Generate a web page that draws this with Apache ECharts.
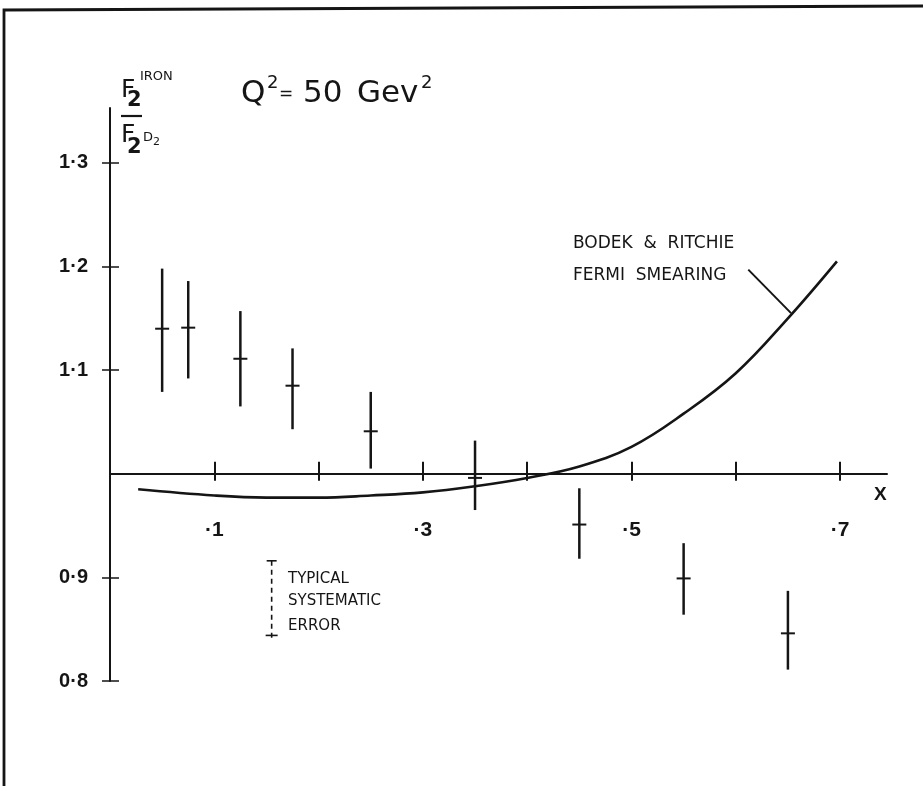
<!DOCTYPE html>
<html><head><meta charset="utf-8">
<script src="https://cdn.jsdelivr.net/npm/echarts@6/dist/echarts.min.js"></script>
<style>html,body{margin:0;padding:0;background:#fff}#c{width:923px;height:786px}</style>
</head><body><div id="c"></div>
<script>
// ---- data ----
const xPoints   = [0.05, 0.075, 0.125, 0.175, 0.25, 0.35, 0.45, 0.55, 0.65];
const ratio     = [1.140, 1.141, 1.111, 1.085, 1.041, 0.996, 0.951, 0.899, 0.846];
const errHigh   = [1.198, 1.186, 1.157, 1.121, 1.079, 1.032, 0.986, 0.933, 0.887];
const errLow    = [1.079, 1.092, 1.065, 1.043, 1.005, 0.965, 0.918, 0.864, 0.811];
const curveX    = [0.027, 0.1, 0.15, 0.2, 0.25, 0.3, 0.35, 0.4, 0.45, 0.5, 0.55, 0.6, 0.65, 0.697];
const curveY    = [0.985, 0.979, 0.977, 0.977, 0.979, 0.982, 0.988, 0.996, 1.007, 1.026, 1.058, 1.097, 1.150, 1.205];
const pointerX  = [0.612, 0.653];
const pointerY  = [1.197, 1.155];
const sysErrX   = [0.155];
const sysErrLow = [0.844];
const sysErrHigh= [0.916];
const xTickValues  = [0.1, 0.2, 0.3, 0.4, 0.5, 0.6, 0.7];
const xLabelValues = [0.1, 0.3, 0.5, 0.7];
const yTickValues  = [0.8, 0.9, 1.1, 1.2, 1.3];
const yLabelValues = [0.8, 0.9, 1.1, 1.2, 1.3];
const X_MIN = 0, X_MAX = 0.745, Y_MIN = 0.8, Y_MAX = 1.353, X_AXIS_AT = 1.0;

// ---- layout ----
const W = 923, H = 786;
const gridL = 110, gridR = 36, gridT = 108, gridB = 105;
const gridH = H - gridT - gridB;
const xAxisOffset = -(X_AXIS_AT - Y_MIN) / (Y_MAX - Y_MIN) * gridH;
const INK = '#151515';

const chart = echarts.init(document.getElementById('c'), null, {renderer: 'canvas'});

function xFmt(v) {
  const d = Math.round(v * 10);
  return xLabelValues.some(t => Math.abs(t - v) < 1e-6) ? '\u00B7' + d : '';
}
function yFmt(v) {
  return v.toFixed(1).replace('.', '\u00B7');
}

const baseX = {
  type: 'value', min: X_MIN, max: X_MAX, gridIndex: 0, position: 'bottom',
  offset: xAxisOffset, splitLine: {show: false}
};
const baseY = {
  type: 'value', min: Y_MIN, max: Y_MAX, gridIndex: 0, position: 'left',
  splitLine: {show: false}
};

const option = {
  backgroundColor: '#fff',
  animation: false,
  grid: {left: gridL, right: gridR, top: gridT, bottom: gridB, containLabel: false},
  xAxis: [
    Object.assign({}, baseX, {
      axisLine: {show: true, lineStyle: {color: INK, width: 2}},
      axisTick: {show: true, inside: true, length: 12, lineStyle: {color: INK, width: 2}, customValues: xTickValues},
      axisLabel: {show: true, margin: 46, color: INK, fontSize: 21, fontWeight: 'bold',
                  fontFamily: 'Liberation Sans', customValues: xLabelValues, formatter: xFmt}
    }),
    Object.assign({}, baseX, {
      axisLine: {show: false},
      axisTick: {show: true, inside: false, length: 7, lineStyle: {color: INK, width: 2}, customValues: xTickValues},
      axisLabel: {show: false}
    })
  ],
  yAxis: [
    Object.assign({}, baseY, {
      axisLine: {show: true, lineStyle: {color: INK, width: 2}},
      axisTick: {show: true, inside: false, length: 8, lineStyle: {color: INK, width: 1.5}, customValues: yTickValues},
      axisLabel: {show: true, margin: 22, color: INK, fontSize: 20, fontWeight: 'bold',
                  fontFamily: 'Liberation Sans', customValues: yLabelValues, formatter: yFmt}
    }),
    Object.assign({}, baseY, {
      axisLine: {show: false},
      axisTick: {show: true, inside: true, length: 9, lineStyle: {color: INK, width: 1.5}, customValues: yTickValues},
      axisLabel: {show: false}
    })
  ],
  series: [
    {
      name: 'Bodek & Ritchie Fermi smearing', type: 'line', xAxisIndex: 0, yAxisIndex: 0,
      data: curveX.map((x, i) => [x, curveY[i]]),
      smooth: 0.4, showSymbol: false, symbol: 'none',
      lineStyle: {color: INK, width: 2.6}
    },
    {
      name: 'pointer', type: 'line', xAxisIndex: 0, yAxisIndex: 0,
      data: pointerX.map((x, i) => [x, pointerY[i]]),
      showSymbol: false, symbol: 'none',
      lineStyle: {color: INK, width: 2}
    },
    {
      name: 'data', type: 'custom', xAxisIndex: 0, yAxisIndex: 0,
      data: xPoints.map((x, i) => [x, ratio[i], errLow[i], errHigh[i]]),
      encode: {x: 0, y: [1, 2, 3]},
      renderItem: function (params, api) {
        const x = api.value(0);
        const pc = api.coord([x, api.value(1)]);
        const pl = api.coord([x, api.value(2)]);
        const ph = api.coord([x, api.value(3)]);
        return {type: 'group', children: [
          {type: 'line', shape: {x1: pl[0], y1: pl[1], x2: ph[0], y2: ph[1]},
           style: {stroke: INK, lineWidth: 2.5}},
          {type: 'line', shape: {x1: pc[0] - 7, y1: pc[1], x2: pc[0] + 7, y2: pc[1]},
           style: {stroke: INK, lineWidth: 2}}
        ]};
      }
    },
    {
      name: 'typical systematic error', type: 'custom', xAxisIndex: 0, yAxisIndex: 0,
      data: sysErrX.map((x, i) => [x, sysErrLow[i], sysErrHigh[i]]),
      encode: {x: 0, y: [1, 2]},
      renderItem: function (params, api) {
        const x = api.value(0);
        const pl = api.coord([x, api.value(1)]);
        const ph = api.coord([x, api.value(2)]);
        return {type: 'group', children: [
          {type: 'line', shape: {x1: ph[0], y1: ph[1], x2: pl[0], y2: pl[1] + 4},
           style: {stroke: INK, lineWidth: 1.6, lineDash: [5, 4]}},
          {type: 'line', shape: {x1: ph[0] - 5, y1: ph[1], x2: ph[0] + 5, y2: ph[1]},
           style: {stroke: INK, lineWidth: 1.6}},
          {type: 'line', shape: {x1: pl[0] - 6, y1: pl[1], x2: pl[0] + 6, y2: pl[1]},
           style: {stroke: INK, lineWidth: 1.6}}
        ]};
      }
    }
  ],
  graphic: [
    // frame
    {type: 'polyline', shape: {points: [[4, 786], [4, 10], [923, 6]]}, style: {stroke: INK, lineWidth: 2.8, fill: null}},
    // y-axis title: F2^IRON / F2^D2
    {type: 'text', x: 121, y: 78, style: {text: 'F', font: '25px "DejaVu Sans"', fill: INK}},
    {type: 'text', x: 127, y: 90, style: {text: '2', font: 'bold 21px "DejaVu Sans"', fill: INK}},
    {type: 'text', x: 140, y: 70, style: {text: 'IRON', font: '13px "DejaVu Sans"', fill: INK}},
    {type: 'line', shape: {x1: 121, y1: 116, x2: 142, y2: 116}, style: {stroke: INK, lineWidth: 2.2}},
    {type: 'text', x: 121, y: 123, style: {text: 'F', font: '25px "DejaVu Sans"', fill: INK}},
    {type: 'text', x: 127, y: 137, style: {text: '2', font: 'bold 21px "DejaVu Sans"', fill: INK}},
    {type: 'text', x: 143, y: 131, style: {text: 'D', font: '13px "DejaVu Sans"', fill: INK}},
    {type: 'text', x: 153, y: 137, style: {text: '2', font: '11px "DejaVu Sans"', fill: INK}},
    // title Q^2 = 50 Gev^2
    {type: 'text', x: 241, y: 78, style: {text: 'Q', font: '31px "DejaVu Sans"', fill: INK}},
    {type: 'text', x: 267, y: 74, style: {text: '2', font: '18px "DejaVu Sans"', fill: INK}},
    {type: 'text', x: 279, y: 86, style: {text: '=', font: '17px "DejaVu Sans"', fill: INK}},
    {type: 'text', x: 303, y: 78, style: {text: '50', font: '31px "DejaVu Sans"', fill: INK}},
    {type: 'text', x: 357, y: 78, style: {text: 'Gev', font: '31px "DejaVu Sans"', fill: INK}},
    {type: 'text', x: 421, y: 74, style: {text: '2', font: '18px "DejaVu Sans"', fill: INK}},
    // axis name X
    {type: 'text', x: 874, y: 485, style: {text: 'X', font: 'bold 19px "Liberation Sans"', fill: INK}},
    // curve annotation
    {type: 'text', x: 573, y: 235, style: {text: 'BODEK  &  RITCHIE', font: '17px "DejaVu Sans"', fill: INK}},
    {type: 'text', x: 573, y: 267, style: {text: 'FERMI  SMEARING', font: '17px "DejaVu Sans"', fill: INK}},
    // systematic error annotation
    {type: 'text', x: 288, y: 572, style: {text: 'TYPICAL', font: '15px "DejaVu Sans"', fill: INK}},
    {type: 'text', x: 288, y: 594, style: {text: 'SYSTEMATIC', font: '15px "DejaVu Sans"', fill: INK}},
    {type: 'text', x: 288, y: 619, style: {text: 'ERROR', font: '15px "DejaVu Sans"', fill: INK}}
  ]
};
chart.setOption(option);
</script>
</body></html>
